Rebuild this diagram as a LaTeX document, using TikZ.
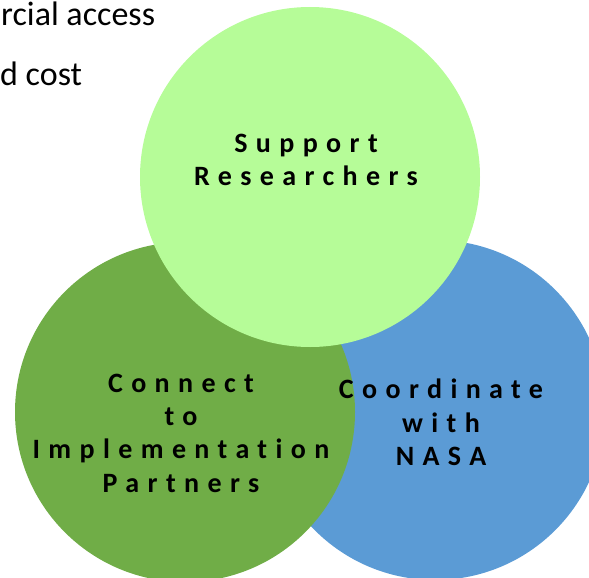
\documentclass[tikz,border=0pt]{standalone}
\usepackage{fontspec}
\setmainfont{Carlito}
\definecolor{nasablue}{HTML}{5B9BD5}
\definecolor{partgreen}{HTML}{70AD47}
\definecolor{supgreen}{HTML}{B6FC98}
\begin{document}
\begin{tikzpicture}[x=1pt,y=-1pt,
  circ/.style={circle, minimum size=340pt, inner sep=0pt, draw=none},
  lbl/.style={font=\fontsize{28}{33}\selectfont\bfseries\addfontfeature{LetterSpace=30,Ligatures=NoCommon}, anchor=base, text=black, inner sep=0pt},
  bgtext/.style={font=\fontsize{34}{40}\selectfont, inner sep=0pt, text=black, anchor=base west}]
\useasboundingbox (0,0) rectangle (589,578);
\clip (0,0) rectangle (589,578);
\node[bgtext] (t1) at (1,26) {rcial access};
\node[bgtext] (t2) at (0,85) {d cost};
\node[circ, fill=nasablue] (nasa) at (435,410) {};
\node[circ, fill=partgreen] (partners) at (185,412) {};
\node[circ, fill=supgreen] (support) at (310,177) {};
\node[lbl] (s1) at (306,152) {Support};
\node[lbl] (s2) at (306,185) {Researchers};
\node[lbl] (p1) at (181,392) {Connect};
\node[lbl] (p2) at (181,425) {to};
\node[lbl] (p3) at (181,458) {Implementation};
\node[lbl] (p4) at (181,492) {Partners};
\node[lbl] (n1) at (441,398) {Coordinate};
\node[lbl] (n2) at (441,432) {with};
\node[lbl] (n3) at (441,465) {NASA};
\end{tikzpicture}
\end{document}
